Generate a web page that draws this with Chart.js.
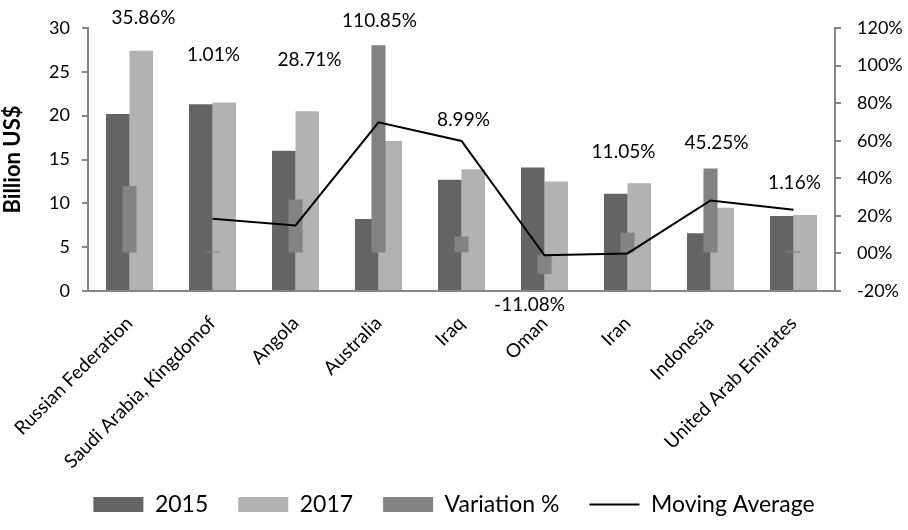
<!DOCTYPE html>
<html>
<head>
<meta charset="utf-8">
<script src="https://cdn.jsdelivr.net/npm/chart.js@4.4.1/dist/chart.umd.min.js"></script>
<style>
  html, body { margin: 0; padding: 0; background: #fff; }
  #wrap { width: 908px; height: 530px; }
</style>
</head>
<body>
<div id="wrap"><canvas id="chart"></canvas></div>
<script>
const countries = ["Russian Federation", "Saudi Arabia, Kingdomof", "Angola", "Australia", "Iraq", "Oman", "Iran", "Indonesia", "United Arab Emirates"];
const values2015 = [20.2, 21.3, 16.0, 8.2, 12.7, 14.1, 11.1, 6.6, 8.55];
const values2017 = [27.4, 21.5, 20.5, 17.1, 13.9, 12.5, 12.3, 9.5, 8.67];
const variation = [35.86, 1.01, 28.71, 110.85, 8.99, -11.08, 11.05, 45.25, 1.16];
const movingAvg = [null, 18.4, 14.9, 69.8, 59.9, -1.0, 0.0, 28.2, 23.2];
const rightTicks = ["-20%", "00%", "20%", "40%", "60%", "80%", "100%", "120%"];

// hand placed labels in the original: lift above tallest bar (px) and x nudge
const labelLift = [33, 48, 51, 24, 49, -31, 31, 26, 32];
const labelShift = [14, 1, 14, 1, 2, -15, -4, 6, 1];

const FONT = "Lato";
const axisGray = "#868686";

const varLabels = {
  id: "varLabels",
  afterDatasetsDraw(chart) {
    const ctx = chart.ctx;
    const m0 = chart.getDatasetMeta(0), m1 = chart.getDatasetMeta(1), m2 = chart.getDatasetMeta(2);
    ctx.save();
    ctx.font = "19px " + FONT;
    ctx.fillStyle = "#000";
    ctx.textAlign = "center";
    ctx.textBaseline = "middle";
    variation.forEach((v, i) => {
      let anchor;
      if (v >= 0) anchor = Math.min(m0.data[i].y, m1.data[i].y, m2.data[i].y);
      else anchor = m2.data[i].y;
      const x = m2.data[i].x + labelShift[i];
      ctx.fillText(v.toFixed(2) + "%", x, anchor - labelLift[i]);
    });
    ctx.restore();
  }
};

new Chart(document.getElementById("chart"), {
  type: "bar",
  data: {
    labels: countries,
    datasets: [
      {
        label: "2015",
        data: values2015,
        backgroundColor: "#646464",
        borderWidth: 0,
        categoryPercentage: 0.566,
        barPercentage: 1,
        yAxisID: "y",
        order: 2,
        pointStyle: "rect"
      },
      {
        label: "2017",
        data: values2017,
        backgroundColor: "#b2b2b2",
        borderWidth: 0,
        categoryPercentage: 0.566,
        barPercentage: 1,
        yAxisID: "y",
        order: 3,
        pointStyle: "rect"
      },
      {
        label: "Variation %",
        data: variation,
        backgroundColor: "#838383",
        borderWidth: 0,
        grouped: false,
        categoryPercentage: 1,
        barPercentage: 0.17,
        yAxisID: "y1",
        order: 1,
        pointStyle: "rect"
      },
      {
        type: "line",
        label: "Moving Average",
        data: movingAvg,
        borderColor: "#000",
        backgroundColor: "#000",
        borderWidth: 2,
        pointRadius: 0,
        tension: 0,
        yAxisID: "y1",
        order: 0,
        pointStyle: "line"
      }
    ]
  },
  options: {
    responsive: true,
    maintainAspectRatio: false,
    animation: false,
    layout: { padding: { top: 28, left: 0, right: 0, bottom: 4 } },
    scales: {
      x: {
        grid: { display: false },
        border: { color: axisGray, width: 2 },
        ticks: {
          color: "#000",
          font: { family: FONT, size: 19 },
          minRotation: 45,
          maxRotation: 45,
          padding: 13,
          autoSkip: false
        },
        afterFit: (s) => {
          s.height = 172;
          // long rotated names run past the axis box, don't clip them
          s._computeLabelArea = () => undefined;
        }
      },
      y: {
        position: "left",
        min: 0,
        max: 30,
        ticks: { stepSize: 5, color: "#000", font: { family: FONT, size: 18 }, padding: 12 },
        grid: { drawOnChartArea: false, drawTicks: true, tickLength: 6, color: axisGray, lineWidth: 2 },
        border: { color: axisGray, width: 2 },
        title: { display: true, text: "Billion US$", color: "#000", font: { family: FONT, size: 22, weight: "bold" }, padding: 0 },
        afterFit: (s) => { s.width = 88; }
      },
      y1: {
        position: "right",
        min: -20,
        max: 120,
        ticks: {
          stepSize: 20,
          color: "#000",
          font: { family: FONT, size: 18 },
          padding: 16,
          callback: (v, i) => rightTicks[i]
        },
        grid: { drawOnChartArea: false, drawTicks: true, tickLength: 6, color: axisGray, lineWidth: 2 },
        border: { color: axisGray, width: 2 },
        afterFit: (s) => { s.width = 73; }
      }
    },
    plugins: {
      legend: {
        display: true,
        position: "bottom",
        labels: {
          usePointStyle: true,
          pointStyleWidth: 50,
          boxHeight: 15,
          padding: 30,
          color: "#000",
          font: { family: FONT, size: 23 },
          sort: (a, b) => a.datasetIndex - b.datasetIndex
        }
      },
      tooltip: { enabled: false }
    }
  },
  plugins: [varLabels]
});
</script>
</body>
</html>
